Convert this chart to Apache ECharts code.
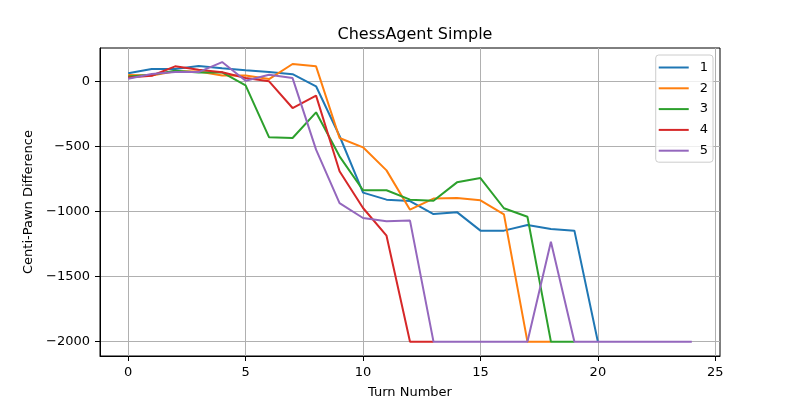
<!DOCTYPE html>
<html><head><meta charset="utf-8">
<script src="https://cdn.jsdelivr.net/npm/echarts@6/dist/echarts.min.js"></script>
<style>html,body{margin:0;padding:0;background:#fff}#c{width:800px;height:400px}</style>
</head><body><div id="c"></div>
<script>
const seriesNames = ['1','2','3','4','5'];
const s1 = [62, 95, 95, 118, 100, 85, 72, 55, -38, -420, -855, -909, -920, -1020, -1005, -1147, -1147, -1104, -1134, -1147, -2000];
const s2 = [48, 45, 78, 75, 45, 45, 17, 133, 115, -435, -507, -684, -986, -901, -896, -914, -1022, -2000, -2000];
const s3 = [38, 50, 81, 68, 69, -31, -430, -435, -238, -576, -837, -837, -909, -917, -776, -743, -975, -1040, -2000, -2000];
const s4 = [30, 43, 115, 89, 70, 25, 0, -205, -110, -691, -973, -1186, -2000, -2000];
const s5 = [20, 56, 71, 71, 148, 5, 51, 25, -525, -935, -1050, -1075, -1070, -2000, -2000, -2000, -2000, -2000, -1232, -2000, -2000, -2000, -2000, -2000, -2000];
const xTicks = [0, 5, 10, 15, 20, 25];
const yTicks = [0, -500, -1000, -1500, -2000];
const colors = ['#1f77b4', '#ff7f0e', '#2ca02c', '#d62728', '#9467bd'];
const allData = [s1, s2, s3, s4, s5];
const fmt = v => v < 0 ? '\u2212' + (-v) : String(v);
const font = 'DejaVu Sans';
const chart = echarts.init(document.getElementById('c'), null, {renderer: 'canvas'});
chart.setOption({
  animation: false,
  color: colors,
  title: {text: 'ChessAgent Simple', left: 410, top: 22, textAlign: 'center',
    textStyle: {fontFamily: font, fontSize: 16, fontWeight: 'normal', color: '#000'}},
  grid: {left: 100, right: 80, top: 48, bottom: 44, show: true, borderColor: '#000', borderWidth: 1,
    containLabel: false, outerBoundsMode: 'none'},
  legend: {orient: 'vertical', right: 87, top: 55, data: seriesNames, itemWidth: 30, itemHeight: 10, itemGap: 7.8,
    padding: [6, 5, 5, 3], backgroundColor: 'rgba(255,255,255,0.8)', borderColor: '#cccccc', borderWidth: 1, borderRadius: 3,
    textStyle: {fontFamily: font, fontSize: 13, color: '#000', padding: [0, 0, 0, 6]}, icon: 'path://M0,5 L30,5 L30,7 L0,7 Z'},
  xAxis: {type: 'value', min: -1.2, max: 25.2,
    name: 'Turn Number', nameLocation: 'middle', nameGap: 30,
    nameTextStyle: {fontFamily: font, fontSize: 13, color: '#000'},
    axisLine: {show: true, onZero: false, lineStyle: {color: '#000'}},
    axisTick: {show: true, customValues: xTicks, length: 5, lineStyle: {color: '#000'}},
    axisLabel: {customValues: xTicks, fontFamily: font, fontSize: 13, color: '#000', margin: 10},
    splitLine: {show: true, lineStyle: {color: '#b0b0b0', width: 1}}},
  yAxis: {type: 'value', min: -2110, max: 256,
    name: 'Centi-Pawn Difference', nameLocation: 'middle', nameGap: 64,
    nameTextStyle: {fontFamily: font, fontSize: 13, color: '#000'},
    axisLine: {show: true, onZero: false, lineStyle: {color: '#000'}},
    axisTick: {show: true, customValues: yTicks, length: 5, lineStyle: {color: '#000'}},
    axisLabel: {customValues: yTicks, formatter: fmt, fontFamily: font, fontSize: 13, color: '#000', margin: 10},
    splitLine: {show: true, lineStyle: {color: '#b0b0b0', width: 1}}},
  series: allData.map((arr, i) => ({
    name: seriesNames[i], type: 'line', symbol: 'none',
    lineStyle: {width: 2, color: colors[i]},
    data: arr.map((v, t) => [t, v])
  }))
});
</script></body></html>
